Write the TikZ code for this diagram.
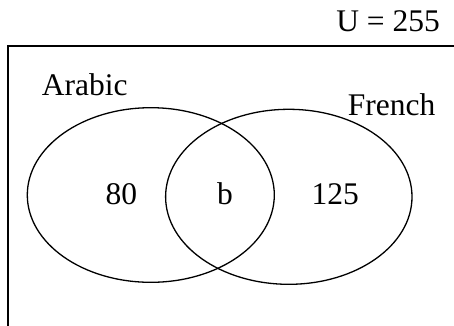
\documentclass[tikz,border=0pt]{standalone}
\usepackage{fontspec}
\setmainfont{Liberation Serif}
\begin{document}
\begin{tikzpicture}[x=1pt,y=-1pt,
  lbl/.style={inner sep=0pt,font=\fontsize{31.5}{38}\selectfont},
  setline/.style={line width=1.3pt},
  frame/.style={line width=2pt}]
\useasboundingbox (0,0) rectangle (454,325);
\coordinate (tl) at (8,46);
\coordinate (tr) at (456,46);
\coordinate (bl) at (8,327);
\draw[frame] (tr) -- (tl) -- (bl);
\draw[setline] (150.8,195) ellipse [x radius=123.5, y radius=87.3];
\draw[setline] (288.8,196.8) ellipse [x radius=123.2, y radius=87.5];
\node[lbl,anchor=base east] (u) at (440,31.7) {U = 255};
\node[lbl,anchor=base west] (arabic) at (41.7,95) {Arabic};
\node[lbl,anchor=base west] (french) at (347.7,115.7) {French};
\node[lbl,anchor=base] (a80) at (121.3,204) {80};
\node[lbl,anchor=base] (b) at (225,204) {b};
\node[lbl,anchor=base] (f125) at (335.3,204) {125};
\end{tikzpicture}
\end{document}
